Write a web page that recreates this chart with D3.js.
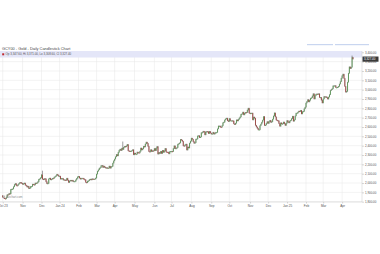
<!DOCTYPE html>
<meta charset="utf-8">
<style>
body { margin: 0; background: #fff; }
svg { display: block; font-family: 'Liberation Sans', Arial, sans-serif; }
.grid line { stroke: #e6e6e6; stroke-width: 0.5; }
.axis path { stroke: #c8c8c8; stroke-width: 0.5; }
.axis line { stroke: #b0b0b0; stroke-width: 0.5; }
.axis text { fill: #555; }
</style>
<body>
<script src="https://d3js.org/d3.v7.min.js"></script>
<script>

// x tick labels, one per month
var monthLabels = ["Oct 23","Nov","Dec","Jan 24","Feb","Mar","Apr","May","Jun","Jul",
                   "Aug","Sep","Oct","Nov","Dec","Jan 25","Feb","Mar","Apr"];

// daily closes per month (GCY00)
var oct23 = [1847,1841,1834,1831,1845,1875,1874,1887,1883,1932,1934,1937,1960,1983,1994,1973,1971,1985,1995,2006,2005,1996];
var nov23 = [1987,1993,2000,1978,1970,1957,1965,1940,1946,1964,1964,1987,1984,1979,2000,1997,2002,2014,2040,2045,2057];
var dec23 = [2089,2042,2036,2047,2046,2014,1993,1996,2045,2052,2035,2040,2050,2049,2063,2069,2078,2093,2083,2072];
var jan24 = [2073,2042,2050,2050,2033,2035,2032,2029,2051,2030,2006,2022,2029,2023,2029,2016,2018,2018,2034,2050,2067];
var feb24 = [2071,2053,2042,2051,2051,2050,2039,2035,2007,2004,2021,2024,2036,2041,2034,2045,2043,2042,2043,2054];
var mar24 = [2096,2126,2141,2158,2165,2186,2188,2167,2180,2168,2162,2164,2160,2160,2181,2159,2175,2179,2213,2238];
var apr24 = [2257,2281,2305,2291,2329,2351,2362,2348,2373,2360,2383,2392,2388,2398,2413,2346,2342,2338,2342,2347,2357,2303];
var may24 = [2320,2309,2309,2331,2324,2322,2340,2375,2355,2366,2393,2386,2418,2438,2425,2393,2337,2334,2357,2338,2346,2345];
var jun24 = [2369,2347,2375,2391,2310,2327,2317,2339,2317,2349,2329,2346,2370,2332,2331,2330,2313,2336,2339];
var jul24 = [2339,2337,2369,2398,2368,2371,2380,2416,2421,2430,2467,2460,2447,2399,2396,2409,2416,2353,2386,2375,2427,2448];
var aug24 = [2480,2469,2444,2426,2432,2470,2472,2505,2507,2487,2493,2538,2541,2554,2550,2516,2547,2552,2550,2530,2553,2536];
var sep24 = [2525,2526,2543,2524,2532,2543,2543,2580,2611,2611,2599,2598,2614,2646,2652,2676,2688,2694,2668,2659];
var oct24 = [2690,2667,2667,2668,2665,2634,2627,2641,2676,2665,2681,2695,2708,2736,2740,2759,2730,2747,2756,2755,2781,2801,2750];
var nov24 = [2744,2747,2749,2676,2706,2694,2618,2601,2586,2570,2570,2614,2631,2651,2674,2712,2617,2621,2639,2657];
var dec24 = [2639,2658,2671,2650,2657,2684,2718,2751,2709,2675,2669,2667,2637,2608,2645,2632,2635,2653,2635,2617,2641];
var jan25 = [2669,2654,2645,2665,2672,2690,2715,2662,2677,2718,2748,2748,2759,2770,2766,2778,2740,2764,2767,2795,2812];
var feb25 = [2857,2873,2893,2869,2887,2908,2913,2933,2956,2900,2935,2951,2954,2952,2956,2916,2917,2887,2857];
var mar25 = [2900,2926,2921,2924,2915,2899,2921,2946,2991,3001,3010,3041,3041,3043,3022,3022,3027,3035,3060,3086,3122];
var apr25 = [3149,3166,3121,3035,2973,2982,3080,3175,3244,3226,3240,3346,3327];

var firstOpen = 1866;
// a few long upper wicks: [month, day in month, high]
var spikes = [[2, 1, 2128], [6, 9, 2440], [18, 11, 3360]];

var lastQuote = "Op 3,347.60, Hi 3,371.00, Lo 3,308.60, Cl 3,327.40";

var months = [oct23,nov23,dec23,jan24,feb24,mar24,apr24,may24,jun24,jul24,
              aug24,sep24,oct24,nov24,dec24,jan25,feb25,mar25,apr25];

var W = 380, H = 254;
var plotL = 0, plotR = 362, plotT = 51, plotB = 202;

var candles = [], monthStarts = [], prev = firstOpen, n = 0;
months.forEach(function(m, mi) {
  monthStarts.push(n);
  m.forEach(function(c, di) {
    var hi = Math.max(prev, c), lo = Math.min(prev, c);
    spikes.forEach(function(s) { if (s[0] === mi && s[1] === di) hi = s[2]; });
    candles.push({i: n, o: prev, c: c, h: hi, l: lo});
    prev = c; n++;
  });
});

var x = d3.scaleLinear().domain([-3, 398]).range([plotL, plotR]);
var y = d3.scaleLinear().domain([1800, 3400]).range([201.7, 52.3]);

var svg = d3.select("body").append("svg")
    .attr("width", W).attr("height", H);

svg.append("rect").attr("width", W).attr("height", H).attr("fill", "#fff");

// title
svg.append("text")
    .attr("x", 2).attr("y", 49.6)
    .attr("font-size", 3.9).attr("fill", "#444")
    .text("GCY00 - Gold - Daily Candlestick Chart");

// little range bars at the top right
svg.append("rect").attr("x", 307).attr("y", 44).attr("width", 26).attr("height", 1.2).attr("fill", "#c9d6f0");
svg.append("rect").attr("x", 335).attr("y", 44).attr("width", 34).attr("height", 1.2).attr("fill", "#c9d6f0");

svg.append("defs").append("clipPath").attr("id", "clip")
  .append("rect").attr("x", plotL).attr("y", plotT).attr("width", plotR - plotL).attr("height", plotB - plotT);

var ticksY = d3.range(1800, 3401, 100);

// gridlines
var grid = svg.append("g").attr("class", "grid");
grid.selectAll(".h").data(ticksY).enter().append("line")
    .attr("x1", plotL).attr("x2", plotR)
    .attr("y1", function(d) { return y(d); }).attr("y2", function(d) { return y(d); });
grid.selectAll(".v").data(monthStarts).enter().append("line")
    .attr("y1", plotT).attr("y2", plotB)
    .attr("x1", function(d) { return x(d); }).attr("x2", function(d) { return x(d); });

// legend band
svg.append("rect")
    .attr("x", plotL).attr("y", plotT).attr("width", plotR - plotL).attr("height", 6.5)
    .attr("fill", "#e4e6f8");
svg.append("rect").attr("x", 2.2).attr("y", 53.3).attr("width", 2).attr("height", 2).attr("fill", "#c0282d");
svg.append("text")
    .attr("x", 5.6).attr("y", 55.4)
    .attr("font-size", 2.9).attr("fill", "#555")
    .text(lastQuote);

// candles
var plot = svg.append("g").attr("clip-path", "url(#clip)");
plot.selectAll(".wick").data(candles).enter().append("line")
    .attr("x1", function(d) { return x(d.i); }).attr("x2", function(d) { return x(d.i); })
    .attr("y1", function(d) { return y(d.h) - 0.4; })
    .attr("y2", function(d) { return y(d.l) + 0.4; })
    .attr("stroke", "#262626").attr("stroke-width", 0.45);
plot.selectAll(".body").data(candles).enter().append("rect")
    .attr("x", function(d) { return x(d.i) - 0.45; })
    .attr("width", 0.9)
    .attr("y", function(d) { return y(Math.max(d.o, d.c)); })
    .attr("height", function(d) { return Math.max(0.9, Math.abs(y(d.o) - y(d.c))); })
    .attr("fill", function(d) { return d.c >= d.o ? "#4f9a48" : "#a0302b"; })
    .attr("fill-opacity", 0.8);

// watermark
svg.append("rect").attr("x", 3).attr("y", 195.6).attr("width", 2).attr("height", 2).attr("fill", "#bbb");
svg.append("text")
    .attr("x", 6).attr("y", 197.8)
    .attr("font-size", 2.8).attr("fill", "#8a8a8a")
    .text("barchart.com");

// axes
var yAxis = d3.axisRight(y).tickValues(ticksY).tickSize(2).tickPadding(1)
    .tickFormat(d3.format(",.2f"));
var ya = svg.append("g").attr("class", "axis")
    .attr("transform", "translate(" + plotR + ",0)")
    .call(yAxis);
ya.selectAll("text").attr("font-size", 2.9).attr("font-family", "'Liberation Sans', Arial, sans-serif");
ya.select(".domain").attr("d", "M0," + plotT + "V" + plotB);

var xAxis = d3.axisBottom(x).tickValues(monthStarts).tickSize(1.5).tickPadding(1)
    .tickFormat(function(d, i) { return monthLabels[i]; });
var xa = svg.append("g").attr("class", "axis")
    .attr("transform", "translate(0," + plotB + ")")
    .call(xAxis);
xa.selectAll("text").attr("font-size", 3.1).attr("font-family", "'Liberation Sans', Arial, sans-serif");
xa.select(".domain").attr("d", "M" + plotL + ",0H" + plotR);

// last price box
var last = candles[candles.length - 1];
svg.append("rect")
    .attr("x", plotR + 0.5).attr("y", y(last.c) - 2.6)
    .attr("width", 16).attr("height", 5.2).attr("fill", "#3a3a3a");
svg.append("text")
    .attr("x", plotR + 2).attr("y", y(last.c) + 1.1)
    .attr("font-size", 2.9).attr("fill", "#fff")
    .text(d3.format(",.2f")(last.c + 0.4));

</script>
</body>
